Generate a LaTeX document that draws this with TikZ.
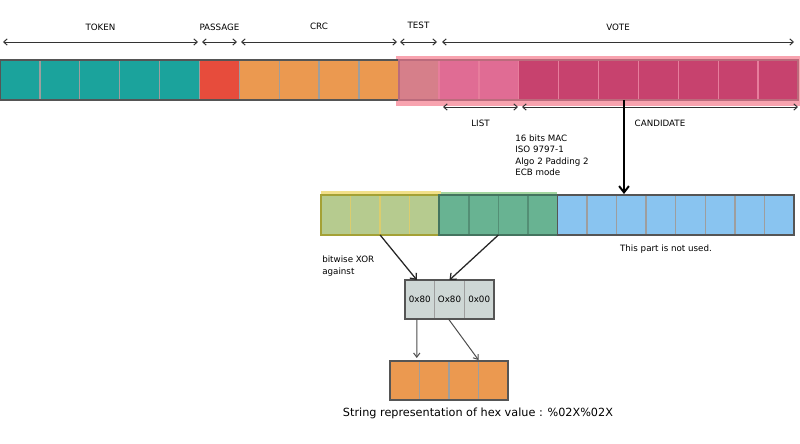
\documentclass[tikz,border=0pt]{standalone}
\usepackage{fontspec}
\setmainfont{DejaVu Sans}
\usetikzlibrary{arrows.meta, positioning, calc}

\definecolor{tokenC}{HTML}{1BA39C}
\definecolor{passageC}{HTML}{E74C3C}
\definecolor{crcC}{HTML}{EB9950}
\definecolor{testC}{HTML}{D67F8A}
\definecolor{listC}{HTML}{E06C94}
\definecolor{voteC}{HTML}{C7426E}
\definecolor{pinkBand}{HTML}{F8A3AF}
\definecolor{macYel}{HTML}{B6CB8F}
\definecolor{macGrn}{HTML}{68B392}
\definecolor{unusedC}{HTML}{89C4F0}
\definecolor{yelBand}{HTML}{F2E08A}
\definecolor{grnBand}{HTML}{A3D6A0}
\definecolor{xorC}{HTML}{CED7D5}
\definecolor{edgeC}{HTML}{555555}
\definecolor{sepC}{HTML}{9E9E9E}

\begin{document}
\begin{tikzpicture}[x=0.025cm, y=-0.025cm, >=Stealth, font=\fontsize{6.2}{8.05}\selectfont]

% --- Style Definitions ---
% cells of the frame (top row)
\tikzstyle{top_cell}=[rectangle, draw=sepC, line width=1pt, inner sep=0pt, outer sep=0pt, minimum width=0.9975cm, minimum height=1cm]
% cells of the MAC (second row)
\tikzstyle{mac_cell}=[rectangle, line width=1pt, inner sep=0pt, outer sep=0pt, minimum width=0.739cm, minimum height=1cm]
% XOR mask and hex result cells
\tikzstyle{xor_cell}=[rectangle, draw=sepC, fill=xorC, line width=1pt, inner sep=0pt, outer sep=0pt, minimum width=0.742cm, minimum height=0.975cm]
\tikzstyle{hex_cell}=[rectangle, draw=sepC, fill=crcC, line width=1pt, inner sep=0pt, outer sep=0pt, minimum width=0.7375cm, minimum height=0.975cm]
\tikzstyle{frame_edge}=[draw=edgeC, line width=1.1pt]

% Arrow Styles
\tikzstyle{dim_arrow}=[{Straight Barb[length=2.5pt, width=4.5pt]}-{Straight Barb[length=2.5pt, width=4.5pt]}, line width=0.7pt, draw=black!80]
\tikzstyle{main_arrow}=[-{Straight Barb[length=4.5pt, width=7pt]}, line width=1.4pt, black]
\tikzstyle{xor_arrow}=[-{Straight Barb[length=3.5pt, width=6pt]}, line width=0.9pt, black!85]
\tikzstyle{hex_arrow}=[-{Straight Barb[length=3pt, width=4.5pt]}, line width=0.7pt, black!70]

\useasboundingbox (0,0) rectangle (800,444);

% --- 1. Top Row: the frame ---

\fill[pinkBand] (396,56) rectangle (800,106);

\foreach \i/\col in {0/tokenC,1/tokenC,2/tokenC,3/tokenC,4/tokenC,5/passageC,
  6/crcC,7/crcC,8/crcC,9/crcC}
  \node[top_cell, fill=\col] (top\i) at ({19.95+39.9*\i},80) {};
\foreach \i/\col in {10/testC,11/listC,12/listC,
  13/voteC,14/voteC,15/voteC,16/voteC,17/voteC,18/voteC,19/voteC}
  \node[top_cell, fill=\col, draw=listC!70!pinkBand] (top\i) at ({19.95+39.9*\i},80) {};
\draw[frame_edge] (top0.north west) rectangle (top9.south east);
\draw[pinkBand!70!voteC!80!black, line width=1.1pt] (top10.north west) rectangle (top19.south east);

% field sizes above
\coordinate (tok_l) at (3,42);   \coordinate (tok_r) at (198,42);
\coordinate (pas_l) at (202,42); \coordinate (pas_r) at (237,42);
\coordinate (crc_l) at (241,42); \coordinate (crc_r) at (397,42);
\coordinate (tst_l) at (400,42); \coordinate (tst_r) at (437,42);
\coordinate (vot_l) at (442,42); \coordinate (vot_r) at (794,42);

\draw[dim_arrow] (tok_l) -- node[midway, yshift=10.7pt] {TOKEN} (tok_r);
\draw[dim_arrow] (pas_l) -- node[midway, yshift=10.7pt] {PASSAGE} (pas_r);
\draw[dim_arrow] (crc_l) -- node[midway, yshift=10.9pt] {CRC} (crc_r);
\draw[dim_arrow] (tst_l) -- node[midway, yshift=11.6pt] {TEST} (tst_r);
\draw[dim_arrow] (vot_l) -- node[midway, yshift=10.7pt] {VOTE} (vot_r);

% field sizes below
\coordinate (lst_l) at (443,107); \coordinate (lst_r) at (518,107);
\coordinate (can_l) at (522,107); \coordinate (can_r) at (798,107);

\draw[dim_arrow] (lst_l) -- node[midway, yshift=-11.4pt] {LIST} (lst_r);
\draw[dim_arrow] (can_l) -- node[midway, yshift=-11.4pt] {CANDIDATE} (can_r);


% --- 2. Second Row: the MAC ---

\fill[yelBand] (321,191) rectangle (441,236);
\fill[grnBand] (441,192) rectangle (557,236);

\foreach \i in {0,...,15}{
  \ifnum\i<4
    \node[mac_cell, fill=macYel, draw=yelBand!80!olive] (mac\i) at ({321+29.56*(\i+0.5)},215) {};
  \else\ifnum\i<8
    \node[mac_cell, fill=macGrn, draw=macGrn!80!black] (mac\i) at ({321+29.56*(\i+0.5)},215) {};
  \else
    \node[mac_cell, fill=unusedC, draw=sepC] (mac\i) at ({321+29.56*(\i+0.5)},215) {};
  \fi\fi
}
\draw[draw=olive!60!macYel, line width=1.1pt] (mac0.north west) rectangle (mac3.south east);
\draw[draw=macGrn!65!black, line width=1.1pt] (mac4.north west) rectangle (mac7.south east);
\draw[frame_edge] (mac8.north west) rectangle (mac15.south east);

\node[anchor=north west, align=left, inner sep=0pt] (mac_txt) at (515,134.5)
  {16 bits MAC\\ISO 9797-1\\Algo 2 Padding 2\\ECB mode};
\node (unused_txt) at (666,249) {This part is not used.};

% candidate goes in
\coordinate (cand_src) at (624,100);
\coordinate (cand_dst) at (624,194);
\draw[main_arrow] (cand_src) -- (cand_dst);


% --- 3. XOR mask ---

\foreach \i/\txt in {0/0x80,1/Ox80,2/0x00}
  \node[xor_cell] (xor\i) at ({405+29.67*(\i+0.5)},299.5) {\txt};
\draw[frame_edge] (xor0.north west) rectangle (xor2.south east);

\node[anchor=north west, align=left, inner sep=0pt] (xor_txt) at (322,256) {bitwise XOR\\against};

\draw[xor_arrow] (mac1.south east) -- ($(xor0.north)+(-3,0)$);
\draw[xor_arrow] (mac5.south east) -- (xor1.north);


% --- 4. Result ---

\foreach \i in {0,...,3}
  \node[hex_cell] (hex\i) at ({390+29.5*(\i+0.5)},380.5) {};
\draw[frame_edge] (hex0.north west) rectangle (hex3.south east);

\draw[hex_arrow] ($(xor0.south)+(-3,0)$) -- ($(hex0.north)+(12,-3)$);
\draw[hex_arrow] ($(xor1.south)+(-1,0)$) -- ($(hex2.north east)+(0,-1)$);

\node[font=\fontsize{8}{10}\selectfont] (hex_txt) at (478,413) {String representation of hex value : \%02X\%02X};

\end{tikzpicture}
\end{document}
